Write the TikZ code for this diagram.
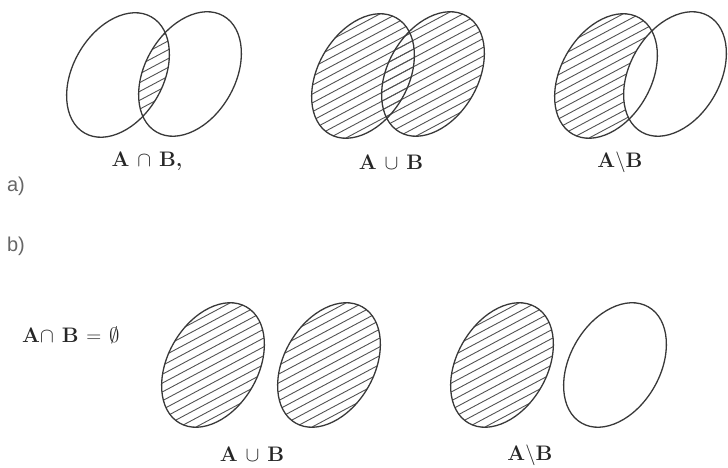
\documentclass[tikz,border=0pt]{standalone}
\usepackage{fontspec}
\newfontfamily\labelsans{Liberation Sans}
\begin{document}
\begin{tikzpicture}[x=1pt,y=1pt,
  outline/.style={draw=black!78, line width=1.3pt},
  hatchline/.style={draw=black!68, line width=0.9pt},
  oval/.style 2 args={shift={(#1,#2)}, rotate=60},
  setlabel/.style={font=\fontsize{21}{24}\selectfont\bfseries, text=black!85, inner sep=0pt},
  partlabel/.style={font=\labelsans\fontsize{20}{24}\selectfont, text=black!60, inner sep=0pt}]
\useasboundingbox (0,0) rectangle (728,468);

% ---------- panel 1: A cap B ----------
\begin{scope}
  \clip[oval={118}{393}] (0,0) ellipse [x radius=67, y radius=45];
  \clip[oval={190}{394}] (0,0) ellipse [x radius=67, y radius=45];
  \foreach \k in {-10,...,10}
    \draw[hatchline, shift={(154,393)}, rotate=28] (-95,\k*7.8) -- (95,\k*7.8);
\end{scope}
\draw[outline, oval={118}{393}] (0,0) ellipse [x radius=67, y radius=45];
\draw[outline, oval={190}{394}] (0,0) ellipse [x radius=67, y radius=45];

% ---------- panel 2: A cup B ----------
\begin{scope}
  \clip[oval={363}{392}] (0,0) ellipse [x radius=67, y radius=45];
  \foreach \k in {-10,...,10}
    \draw[hatchline, shift={(398,393)}, rotate=28] (-130,\k*7.8) -- (130,\k*7.8);
\end{scope}
\begin{scope}
  \clip[oval={433}{394}] (0,0) ellipse [x radius=67, y radius=45];
  \foreach \k in {-10,...,10}
    \draw[hatchline, shift={(398,393)}, rotate=28] (-130,\k*7.8) -- (130,\k*7.8);
\end{scope}
\draw[outline, oval={363}{392}] (0,0) ellipse [x radius=67, y radius=45];
\draw[outline, oval={433}{394}] (0,0) ellipse [x radius=67, y radius=45];

% ---------- panel 3: A minus B ----------
\begin{scope}
  \clip[oval={606}{392}] (0,0) ellipse [x radius=67, y radius=45];
  \foreach \k in {-10,...,10}
    \draw[hatchline, shift={(606,392)}, rotate=28] (-95,\k*7.8) -- (95,\k*7.8);
\end{scope}
\fill[white, oval={675}{394}] (0,0) ellipse [x radius=67, y radius=45];
\draw[outline, oval={606}{392}] (0,0) ellipse [x radius=67, y radius=45];
\draw[outline, oval={675}{394}] (0,0) ellipse [x radius=67, y radius=45];

% ---------- bottom row ----------
\foreach \cx/\cy in {213/103, 329/103, 502/103}{
  \begin{scope}
    \clip[oval={\cx}{\cy}] (0,0) ellipse [x radius=67, y radius=45];
    \foreach \k in {-10,...,10}
      \draw[hatchline, shift={(\cx,\cy)}, rotate=28] (-95,\k*7.8) -- (95,\k*7.8);
  \end{scope}
  \draw[outline, oval={\cx}{\cy}] (0,0) ellipse [x radius=67, y radius=45];
}
\draw[outline, oval={615}{103}] (0,0) ellipse [x radius=67, y radius=45];

% ---------- labels ----------
\node[setlabel] (lab1) at (147,307) {A $\cap$ B,};
\node[setlabel] (lab2) at (391,306) {A $\cup$ B};
\node[setlabel] (lab3) at (620,306) {A$\backslash$B};
\node[partlabel] (parta) at (16,282) {a)};
\node[partlabel] (partb) at (16,222) {b)};
\node[setlabel, anchor=west] (eq) at (22,133) {A$\cap$ B $=$ $\emptyset$};
\node[setlabel] (lab4) at (252,14) {A $\cup$ B};
\node[setlabel] (lab5) at (530,13) {A$\backslash$B};
\end{tikzpicture}
\end{document}
